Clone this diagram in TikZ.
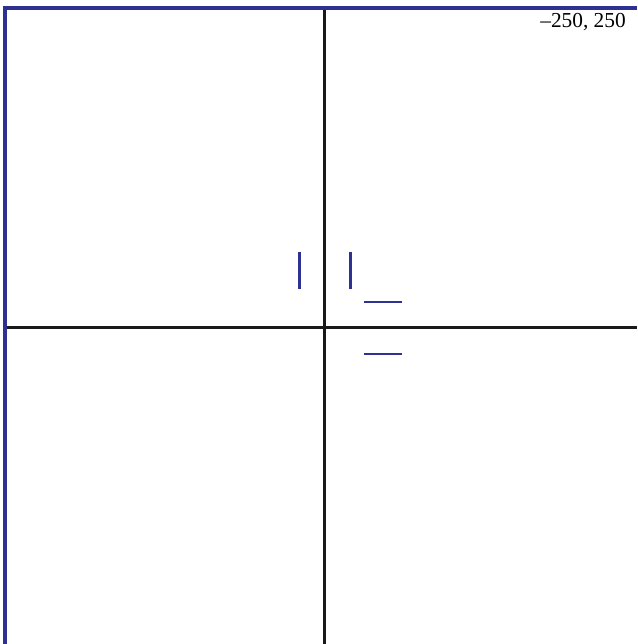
\documentclass[tikz,border=0pt]{standalone}
\usepackage{fontspec}
\setmainfont{Liberation Serif}
\usepackage{xcolor}
\usetikzlibrary{positioning}
\definecolor{frameColor}{RGB}{46,49,146}
\tikzset{
    framebar/.style={
        draw=frameColor,
        line width=2.4pt
    },
    axisline/.style={
        draw=black!90,
        line width=2pt
    },
    marker/.style={
        draw=frameColor,
        line width=2pt
    },
    cornerlabel/.style={
        anchor=base east,
        inner sep=0pt,
        font=\fontsize{16}{19}\selectfont
    }
}

\begin{document}
\begin{tikzpicture}[x=0.75pt, y=-0.75pt]
    \useasboundingbox (0,0) rectangle (637,644);
    \fill[white] (0,0) rectangle (637,644);

    % Achsen
    \coordinate (O) at (324.5,327.5);
    \draw[axisline] (O |- 0,8) -- (O |- 0,644);
    \draw[axisline] (5,327.5) -- (637,327.5);

    % Rahmen
    \draw[framebar] (5,644) -- (5,8) -- (637,8);

    % Striche
    \draw[marker] (299.5,252) -- (299.5,289);
    \draw[marker] (350.5,252) -- (350.5,289);
    \draw[marker] (364,302) -- (402,302);
    \draw[marker] (364,354) -- (402,354);

    \node[cornerlabel] (coords) at (626,27) {--250, 250};
\end{tikzpicture}
\end{document}
